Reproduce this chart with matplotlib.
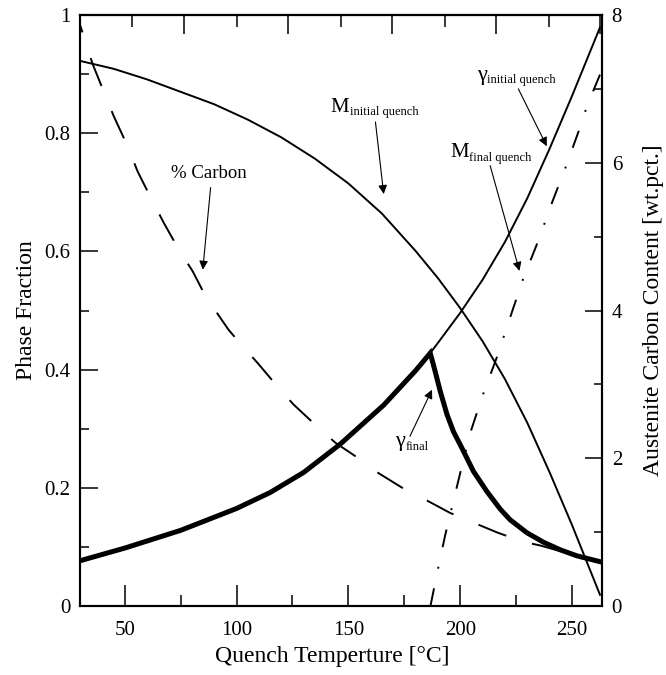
import matplotlib
matplotlib.use('Agg')
import matplotlib.pyplot as plt

plt.rcParams['font.family'] = ['Liberation Serif', 'DejaVu Serif']
plt.rcParams['mathtext.fontset'] = 'custom'
plt.rcParams['mathtext.rm'] = 'Liberation Serif'

# values
# martensite fraction after initial quench
t_m_init = [30.4, 45, 60, 75, 90, 105, 120, 135, 150, 165, 180, 190,
            200, 210, 220, 230, 240, 250, 262.5]
m_init = [0.922, 0.909, 0.891, 0.870, 0.849, 0.823, 0.793, 0.757, 0.715, 0.664,
          0.601, 0.555, 0.504, 0.448, 0.384, 0.310, 0.226, 0.137, 0.019]

# austenite fraction after initial quench (above the gamma_final peak)
t_g_init = [186.6, 190, 200, 210, 220, 230, 240, 250, 262.5]
g_init = [0.428, 0.445, 0.496, 0.552, 0.616, 0.690, 0.774, 0.863, 0.979]

# final austenite fraction
t_g_final = [30.4, 50, 75, 100, 115, 130, 146.4, 165.8, 180, 186.6,
             188.8, 191.1, 194.1, 197.0, 200.8, 205.9, 211.9, 217.9, 222.3,
             229.8, 237.2, 244.8, 252.1, 262.5]
g_final = [0.077, 0.098, 0.128, 0.165, 0.192, 0.226, 0.274, 0.340, 0.398, 0.428,
           0.397, 0.363, 0.324, 0.295, 0.267, 0.228, 0.194, 0.164, 0.146,
           0.124, 0.108, 0.095, 0.085, 0.075]

# martensite formed on final quench
t_m_final = [186.7, 189.8, 193.3, 200, 204.5, 210.3, 216.5, 222.3, 228.1,
             234.8, 241.1, 247.3, 253.6, 256.7, 262.6]
m_final = [0.0, 0.058, 0.120, 0.225, 0.293, 0.359, 0.422, 0.488, 0.553,
           0.617, 0.683, 0.744, 0.810, 0.846, 0.900]

# austenite carbon content, wt.pct. (right axis)
t_carbon = [30.2, 35.6, 40.8, 45.1, 50.9, 55.8, 61.6, 67.4, 73.7, 80.4, 86.2,
            96.4, 100.9, 109.4, 117.5, 125.4, 135.3, 144.2, 154, 163.4, 174.1,
            184.4, 195.5, 205.8, 217, 228.1, 235.7, 245, 254, 262.5]
carbon = [7.85, 7.34, 6.95, 6.63, 6.25, 5.88, 5.53, 5.19, 4.85, 4.53, 4.19,
          3.74, 3.58, 3.29, 3.00, 2.73, 2.45, 2.21, 2.01, 1.80, 1.60,
          1.44, 1.26, 1.13, 0.99, 0.87, 0.82, 0.74, 0.67, 0.60]

x_ticks = [50, 100, 150, 200, 250]
x_minor = [75, 125, 175, 225]
top_major = [76.4, 122.9, 169.7, 216.2, 262.6]
top_minor = [53.2, 100, 146.5, 193, 239.8]

fig = plt.figure(figsize=(6.66, 6.75), dpi=100)
ax = fig.add_axes([0.1201, 0.1022, 0.7838, 0.8756])
ax2 = ax.twinx()

lw = 1.4
ax.plot(t_m_init, m_init, color='k', lw=lw, zorder=3)
ax.plot(t_g_init, g_init, color='k', lw=lw, zorder=3)
ax.plot(t_m_final, m_final, color='k', lw=lw, zorder=3,
        ls=(0, (9.3, 10.3, 1.0, 10.3)))
ax.plot(t_g_final, g_final, color='k', lw=3.6, zorder=4,
        solid_joinstyle='miter')
ax2.plot(t_carbon, carbon, color='k', lw=lw, ls=(12, (15.4, 13.9)))

ax.set_xlim(30, 263.4)
ax.set_ylim(0, 1)
ax2.set_ylim(0, 8)

ax.set_xticks(x_ticks)
ax.set_xticks(x_minor, minor=True)
ax.set_yticks([0, 0.2, 0.4, 0.6, 0.8, 1])
ax.set_yticklabels(['0', '0.2', '0.4', '0.6', '0.8', '1'])
ax.set_yticks([0.1, 0.3, 0.5, 0.7, 0.9], minor=True)
ax2.set_yticks([0, 2, 4, 6, 8])
ax2.set_yticks([1, 3, 5, 7], minor=True)

ax.tick_params(axis='x', which='major', direction='in', length=15, width=1.1,
               labelsize=15, pad=11, top=False)
ax.tick_params(axis='x', which='minor', direction='in', length=8, width=1.1, top=False)
ax.tick_params(axis='y', which='major', direction='in', length=13, width=1.1,
               labelsize=15, pad=7, right=False)
ax.tick_params(axis='y', which='minor', direction='in', length=6.5, width=1.1, right=False)
ax2.tick_params(axis='y', which='major', direction='in', length=12, width=1.1,
                labelsize=15, pad=7)
ax2.tick_params(axis='y', which='minor', direction='in', length=6, width=1.1)

sec = ax.secondary_xaxis('top')
sec.set_xticks(top_major)
sec.set_xticks(top_minor, minor=True)
sec.set_xticklabels([])
sec.tick_params(which='major', direction='in', length=14, width=1.1)
sec.tick_params(which='minor', direction='in', length=8.5, width=1.1)

for a in (ax, ax2):
    for s in a.spines.values():
        s.set_linewidth(1.5)
sec.spines['top'].set_linewidth(1.5)

ax.set_xlabel('Quench Temperture [°C]', fontsize=17)
ax.xaxis.set_label_coords(0.483, -0.068)
ax.set_ylabel('Phase Fraction', fontsize=17, labelpad=5)
ax2.set_ylabel('Austenite Carbon Content [wt.pct.]', fontsize=17, labelpad=15)

# annotations
arrow = dict(arrowstyle='-|>', color='k', lw=0.8, mutation_scale=13,
             shrinkA=0, shrinkB=0)


def label(x, y, main, sub, size=15):
    t = ax.text(x, y, main, fontsize=size, va='baseline')
    ax.annotate(sub, xy=(1, 0), xycoords=t, xytext=(0.3, 1.2),
                textcoords='offset points', fontsize=9, va='baseline')


ax.text(87.5, 0.731, '% Carbon', fontsize=13.5, ha='center', va='center')
ax.annotate('', xy=(84.9, 0.569), xytext=(88.4, 0.708), arrowprops=arrow)

label(142, 0.836, 'M', 'initial quench')
ax.annotate('', xy=(165.8, 0.697), xytext=(162.1, 0.819), arrowprops=arrow)

label(207.5, 0.89, 'γ', 'initial quench', size=16)
ax.annotate('', xy=(238.7, 0.778), xytext=(226.0, 0.875), arrowprops=arrow)

label(195.5, 0.759, 'M', 'final quench')
ax.annotate('', xy=(226.5, 0.567), xytext=(213.4, 0.745), arrowprops=arrow)

label(171, 0.27, 'γ', 'final', size=16)
ax.annotate('', xy=(187.4, 0.366), xytext=(177.5, 0.287), arrowprops=arrow)

fig.savefig('out.png', dpi=100)
